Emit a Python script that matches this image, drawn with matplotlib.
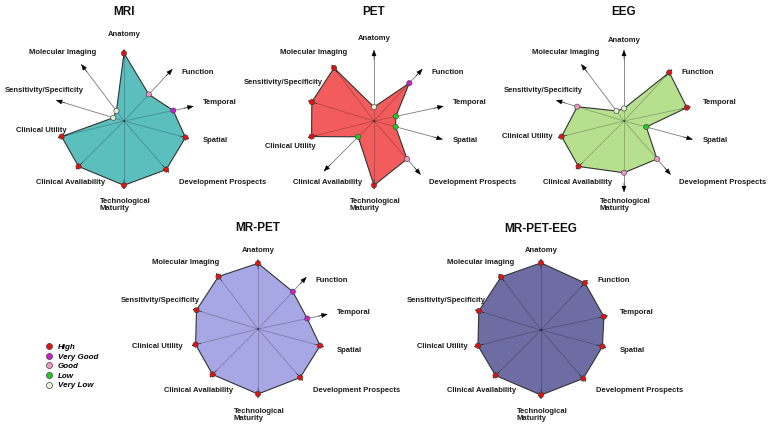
# -*- coding:UTF-8 -*-
import numpy as np
import matplotlib
matplotlib.use('Agg')
import matplotlib.pyplot as plt
from matplotlib.lines import Line2D

plt.rcParams['font.family'] = ['Liberation Sans', 'DejaVu Sans']

# axes of each radar, clockwise from the top
axis_names = ['Anatomy', 'Function', 'Temporal', 'Spatial', 'Development Prospects',
              'Technological\nMaturity', 'Clinical Availability', 'Clinical Utility',
              'Sensitivity/Specificity', 'Molecular Imaging']
# direction of every axis in degrees (the figure does not space them evenly)
axis_angles = [90, 47, 12, -15, -49, -90, -135, -166, 163, 127]

rating_names = ['High', 'Very Good', 'Good', 'Low', 'Very Low']
rating_colors = ['#e31212', '#cc1fcc', '#ee96c8', '#1fcc1f', '#e2f4d8']

modalities = ['MRI', 'PET', 'EEG', 'MR-PET', 'MR-PET-EEG']
fill_colors = ['#5bbfbe', '#f25c5c', '#b6df8e', '#a7a7e5', '#6d6da3']

# radius of every vertex (about 1 = very low ... 5 = high)
mri_values = [5.25, 3.0, 4.0, 4.95, 5.0, 5.0, 5.0, 5.0, 1.2, 1.3]
mri_ratings = ['High', 'Good', 'Very Good', 'High', 'High', 'High', 'High', 'High',
               'Very Low', 'Very Low']
pet_values = [1.4, 4.1, 2.0, 2.0, 4.0, 5.0, 2.0, 5.0, 5.05, 5.15]
pet_ratings = ['Very Low', 'Very Good', 'Low', 'Low', 'Good', 'High', 'Low', 'High',
               'High', 'High']
eeg_values = [1.3, 5.15, 5.0, 2.05, 4.0, 4.1, 5.0, 5.0, 3.9, 1.3]
eeg_ratings = ['Very Low', 'High', 'High', 'Low', 'Good', 'Good', 'High', 'High',
               'Good', 'Very Low']
mrpet_values = [5.1, 4.05, 4.0, 5.0, 5.0, 5.05, 5.0, 5.0, 5.0, 5.1]
mrpet_ratings = ['High', 'Very Good', 'Very Good', 'High', 'High', 'High', 'High',
                 'High', 'High', 'High']
mrpeteeg_values = [5.2, 5.0, 5.0, 4.95, 5.0, 5.05, 5.0, 5.05, 5.05, 5.15]
mrpeteeg_ratings = ['High'] * 10

W, H = 772, 429
R_MIN, R_MAX = 0.4, 6.0
R_PX = 78.3

# chart centres in pixels and title offset
centers = [(124, 121), (374, 121), (624, 121), (258, 329), (541, 330)]
title_dy = [-109, -109, -109, -101, -101]

# label offsets (dx, dy) in pixels from the centre, image direction
label_ha = ['center', 'left', 'left', 'left', 'left', 'center', 'right', 'right', 'right', 'right']
label_pos = [
    [(0, -86), (57, -49), (79, -18), (79, 20), (55, 61), (1, 84), (-19, 61), (-57, 9), (-40, -30), (-28, -68)],
    [(0, -83), (57, -49), (79, -18), (79, 20), (55, 61), (1, 84), (-12, 61), (-58, 26), (-51, -39), (-27, -68)],
    [(0, -80), (57, -49), (79, -18), (79, 20), (55, 61), (1, 84), (-12, 61), (-71, 16), (-41, -31), (-25, -69)],
    [(0, -79), (57, -48), (79, -17), (79, 21), (55, 61), (1, 86), (-25, 61), (-75, 17), (-58, -29), (-39, -66)],
    [(0, -80), (57, -49), (79, -17), (79, 21), (55, 61), (1, 85), (-25, 60), (-73, 17), (-55, -30), (-27, -67)],
]


def draw_radar(fig, center, values, ratings, color, title, t_dy, positions):
    cx, cy = center
    ax = fig.add_axes([(cx - R_PX) / W, (H - cy - R_PX) / H, 2 * R_PX / W, 2 * R_PX / H],
                      projection='polar')
    ax.set_ylim(R_MIN, R_MAX)
    ax.axis('off')

    theta = np.deg2rad(axis_angles)
    vals = np.array(values)

    # grey arrows from the centre, black heads
    for th, v in zip(theta, vals):
        tip = v + 0.3 if v >= 4.5 else 5.5
        ax.plot([th, th], [R_MIN, tip - 0.2], color='#7a7a7a', lw=0.6, zorder=1)
        ax.annotate('', xy=(th, tip), xytext=(th, tip - 0.7), annotation_clip=False,
                    arrowprops=dict(arrowstyle='-|>,head_length=0.45,head_width=0.17',
                                    color='black', lw=0.3, mutation_scale=9,
                                    shrinkA=0, shrinkB=0), zorder=5)

    # polygon
    ax.fill(np.append(theta, theta[0]), np.append(vals, vals[0]), facecolor=color,
            edgecolor='#333333', lw=0.8, zorder=3)
    # spokes inside the polygon
    for th, v in zip(theta, vals):
        ax.plot([th, th], [R_MIN, v], color='black', alpha=0.25, lw=0.6, zorder=4)

    # rating markers
    cols = [rating_colors[rating_names.index(r)] for r in ratings]
    ax.scatter(theta, vals, s=14, c=cols, edgecolors='#444444', linewidths=0.45,
               zorder=6, clip_on=False)

    # labels
    for name, ha, (dx, dy) in zip(axis_names, label_ha, positions):
        ax.annotate(name, xy=(0, R_MIN), xytext=(dx, -dy), textcoords='offset pixels',
                    ha=ha, va='center', fontsize=5.5, fontweight='bold', color='#1c1c1c',
                    multialignment='left', linespacing=1.05, annotation_clip=False)
    ax.annotate(title, xy=(0, R_MIN), xytext=(0, -t_dy), textcoords='offset pixels',
                ha='center', va='center', fontsize=8.5, fontweight='bold', color='#111111',
                annotation_clip=False)


def main():
    fig = plt.figure(figsize=(W / 100, H / 100), dpi=100)

    all_values = [mri_values, pet_values, eeg_values, mrpet_values, mrpeteeg_values]
    all_ratings = [mri_ratings, pet_ratings, eeg_ratings, mrpet_ratings, mrpeteeg_ratings]
    for i in range(len(modalities)):
        draw_radar(fig, centers[i], all_values[i], all_ratings[i], fill_colors[i],
                   modalities[i], title_dy[i], label_pos[i])

    # legend of the ratings
    handles = [Line2D([], [], ls='none', marker='o', ms=4.4, mfc=c, mec='#444444', mew=0.5)
               for c in rating_colors]
    fig.legend(handles, rating_names, loc='upper left',
               bbox_to_anchor=(45.5 / W, 1 - 343.5 / H), frameon=False,
               prop={'size': 5.8, 'style': 'italic', 'weight': 'bold'},
               handlelength=0.8, handletextpad=0.7, labelspacing=0.24,
               borderpad=0, borderaxespad=0)

    fig.savefig('out.png', dpi=100)


if __name__ == "__main__":
    main()
